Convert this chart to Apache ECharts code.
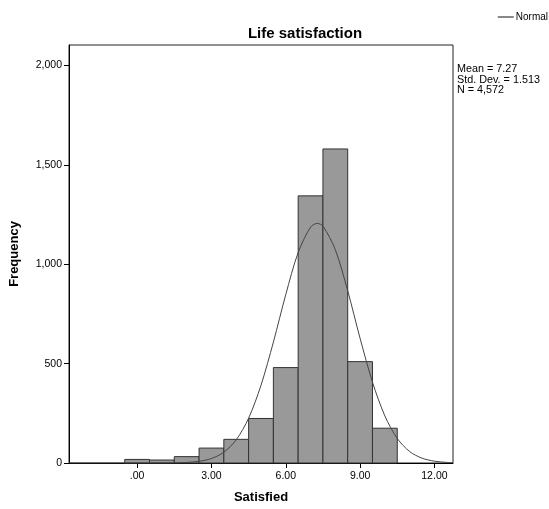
<!DOCTYPE html>
<html>
<head>
<meta charset="utf-8">
<script src="https://cdn.jsdelivr.net/npm/echarts@6/dist/echarts.min.js"></script>
<style>
  html, body { margin: 0; padding: 0; background: #fff; }
  #main { width: 549px; height: 509px; }
</style>
</head>
<body>
<div id="main"></div>
<script>
// histogram bins (centre of each bin, width 1) and counts
let binCenters = [0, 1, 2, 3, 4, 5, 6, 7, 8, 9, 10];
let counts = [18, 15, 32, 75, 119, 224, 480, 1344, 1580, 510, 175];
// normal curve points (x, frequency)
let normalX = [-2.75, 0, 1, 1.5, 2, 2.5, 3, 3.5, 4, 4.5, 5, 5.5, 6, 6.5, 7, 7.27, 7.5, 8, 8.5, 9, 9.5, 10, 10.5, 11, 11.5, 12, 12.5, 12.75];
let normalY = [0, 0, 0.2, 0.8, 2.8, 8.4, 22.5, 54.1, 116.6, 225.6, 391.2, 608.1, 847.6, 1059, 1186.5, 1205.5, 1191.7, 1073, 866.3, 627, 406.9, 236.7, 123.5, 57.7, 24.2, 9.1, 3.1, 1.7];
let xTicks = [0, 3, 6, 9, 12];
let yTicks = [0, 500, 1000, 1500, 2000];
let stats = ['Mean = 7.27', 'Std. Dev. = 1.513', 'N = 4,572'];

let font = '"Liberation Sans", Arial, sans-serif';
let chart = echarts.init(document.getElementById('main'));

let option = {
  animation: false,
  textStyle: { fontFamily: font },
  title: {
    text: 'Life satisfaction',
    left: 300, top: 21, textAlign: 'center',
    textStyle: { fontSize: 15, fontWeight: 'bold', color: '#000', fontFamily: font }
  },
  legend: {
    data: ['Normal'],
    right: -4, top: 7,
    itemWidth: 16, itemHeight: 2, itemGap: 2,
    icon: 'rect',
    textStyle: { fontSize: 10, color: '#000', fontFamily: font, padding: [0, 0, 0, -3] }
  },
  grid: {
    left: 65, right: 96, top: 45, bottom: 45,
    show: true, borderColor: '#222', borderWidth: 1
  },
  xAxis: {
    type: 'value', min: -2.75, max: 12.75,
    name: 'Satisfied', nameLocation: 'middle', nameGap: 28,
    nameTextStyle: { fontSize: 13, fontWeight: 'bold', color: '#000', fontFamily: font },
    axisLine: { show: true, onZero: false, lineStyle: { color: '#000', width: 1 } },
    axisTick: { show: true, length: 5, customValues: xTicks, lineStyle: { color: '#000' } },
    axisLabel: {
      customValues: xTicks, fontSize: 10.5, color: '#000', margin: 8,
      formatter: v => v === 0 ? '.00' : v.toFixed(2)
    },
    splitLine: { show: false }
  },
  yAxis: {
    type: 'value', min: 0, max: 2103,
    name: 'Frequency', nameLocation: 'middle', nameGap: 48, nameRotate: 90,
    nameTextStyle: { fontSize: 13, fontWeight: 'bold', color: '#000', fontFamily: font },
    axisLine: { show: true, onZero: false, lineStyle: { color: '#000', width: 1 } },
    axisTick: { show: true, length: 5, customValues: yTicks, lineStyle: { color: '#000' } },
    axisLabel: {
      customValues: yTicks, fontSize: 10.5, color: '#000', margin: 7,
      formatter: v => v.toLocaleString('en-US')
    },
    splitLine: { show: false }
  },
  graphic: [{
    type: 'text', left: 457, top: 64,
    style: { text: stats.join('\n'), fontSize: 10.8, lineHeight: 10.5, fill: '#000', fontFamily: font }
  }],
  series: [{
    name: 'Frequency',
    type: 'custom',
    data: binCenters.map((c, i) => [c, counts[i]]),
    renderItem: (params, api) => {
      let c = api.value(0), n = api.value(1);
      let p0 = api.coord([c - 0.5, n]);
      let p1 = api.coord([c + 0.5, 0]);
      return {
        type: 'rect',
        shape: { x: p0[0], y: p0[1], width: p1[0] - p0[0], height: p1[1] - p0[1] },
        style: { fill: '#999999', stroke: '#333', lineWidth: 1 }
      };
    },
    z: 2
  }, {
    name: 'Normal',
    type: 'line',
    data: normalX.map((x, i) => [x, normalY[i]]),
    smooth: 0.3,
    symbol: 'none',
    lineStyle: { color: '#444', width: 1 },
    itemStyle: { color: '#888' },
    z: 3
  }]
};
chart.setOption(option);
</script>
</body>
</html>
